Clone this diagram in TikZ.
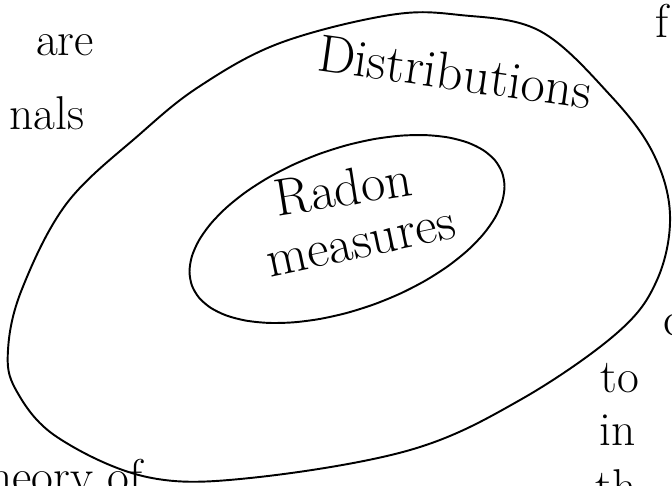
\documentclass[tikz,border=0pt]{standalone}
\usepackage{tikz}

\tikzset{
  hand/.style={font=\fontsize{27}{30}\selectfont,inner sep=0pt},
  big/.style={font=\fontsize{30}{32}\selectfont,inner sep=0pt},
  curve/.style={line width=1.1pt,line join=round}
}

\begin{document}
\begin{tikzpicture}[x=0.02cm,y=-0.02cm]
  \useasboundingbox (0,0) rectangle (672,485);
  \clip (0,0) rectangle (672,485);
  % outer set: distributions
  \draw[curve] plot[smooth cycle,tension=0.6] coordinates {
    (8,350) (22,289) (67,203) (140,134) (200,86)
    (280,43) (390,15) (460,15) (540,31) (610,95) (653,153)
    (670,215) (657,280) (617,333) (520,400) (410,450)
    (250,478) (147,477) (57,437) (16,390)};
  \node[big,rotate=-8] (distr) at (455,72) {Distributions};
  % inner set: Radon measures
  \draw[curve] plot[smooth cycle,domain=0:350,samples=36]
    ({347+165*cos(\x)*0.94+80*sin(\x)*0.342},{229-165*cos(\x)*0.342+80*sin(\x)*0.94});
  \node[big,rotate=9] (radon) at (343,188) {Radon};
  \node[big,rotate=12] (meas) at (362,246) {measures};
  % text cut off at the edges
  \foreach \t/\x/\y in {are/65/45,nals/47/113,to/620/378,in/618/430}{
    \node[hand] (\t) at (\x,\y) {\t};
  }
  \node[hand,anchor=base west] (f) at (655,37) {f};
  \node[hand,anchor=base west] (c) at (663,335) {c};
  \node[hand,anchor=base west] (th) at (595,502) {th};
  \node[hand,anchor=base west] (theory) at (-29,492) {theory of};
\end{tikzpicture}
\end{document}
